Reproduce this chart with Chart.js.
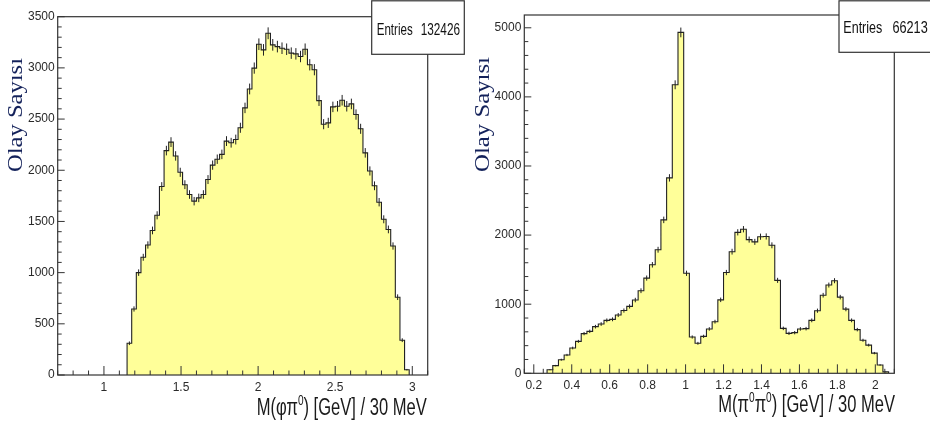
<!DOCTYPE html>
<html><head><meta charset="utf-8">
<script src="https://cdn.jsdelivr.net/npm/chart.js@4.4.1/dist/chart.umd.min.js"></script>
<style>
html,body{margin:0;padding:0;background:#fff;width:930px;height:427px;overflow:hidden}
.wrap{position:absolute;top:0;width:465px;height:427px}
</style></head><body>
<div class="wrap" style="left:0"><canvas id="c1" width="465" height="427"></canvas></div>
<div class="wrap" style="left:465px"><canvas id="c2" width="465" height="427"></canvas></div>
<script>
// ---------- Left histogram: M(phi pi0), 30 MeV bins ----------
const phiPi0BinStart = 1.15;
const phiPi0BinWidth = 0.03;
const phiPi0Counts = [
  310, 645, 1000, 1150, 1270, 1412, 1560, 1841, 2192, 2275,
  2140, 1980, 1859, 1763, 1698, 1730, 1763, 1909, 2050, 2108,
  2155, 2285, 2269, 2300, 2415, 2609, 2794, 2998, 3231, 3176,
  3338, 3225, 3208, 3192, 3182, 3144, 3137, 3111, 3182, 3030,
  2982, 2680, 2450, 2463, 2619, 2625, 2684, 2625, 2648, 2544,
  2405, 2170, 1993, 1848, 1688, 1521, 1422, 1260, 760, 340, 52];
const phiPi0Entries = '132426';
const phiPi0XTicks = [1, 1.5, 2, 2.5, 3];
const phiPi0XTickLabels = ['1', '1.5', '2', '2.5', '3'];
const phiPi0YTicks = [0, 500, 1000, 1500, 2000, 2500, 3000, 3500];
const phiPi0YTickLabels = ['0', '500', '1000', '1500', '2000', '2500', '3000', '3500'];

// ---------- Right histogram: M(pi0 pi0), 30 MeV bins ----------
const pi0Pi0BinStart = 0.27;
const pi0Pi0BinWidth = 0.03;
const pi0Pi0Counts = [
  52, 111, 197, 265, 366, 462, 574, 607, 675, 713,
  766, 781, 843, 908, 968, 1060, 1195, 1378, 1570, 1788,
  2220, 2828, 4175, 4933, 1447, 525, 434, 535, 642, 747,
  1063, 1458, 1760, 2040, 2085, 1935, 1902, 1977, 1980, 1852,
  1345, 650, 578, 588, 642, 646, 766, 906, 1130, 1277,
  1340, 1102, 928, 766, 632, 478, 408, 292, 120, 20];
const pi0Pi0Entries = '66213';
const pi0Pi0XTicks = [0.2, 0.4, 0.6, 0.8, 1, 1.2, 1.4, 1.6, 1.8, 2];
const pi0Pi0XTickLabels = ['0.2', '0.4', '0.6', '0.8', '1', '1.2', '1.4', '1.6', '1.8', '2'];
const pi0Pi0YTicks = [0, 1000, 2000, 3000, 4000, 5000];
const pi0Pi0YTickLabels = ['0', '1000', '2000', '3000', '4000', '5000'];

const yTitle = 'Olay Sayısı';
const entriesLabel = 'Entries';

const TICK_FONT = "'Liberation Sans Narrow', 'Liberation Sans', Arial, sans-serif";
const INK = '#333333';

function histPoints(start, width, counts) {
  const pts = [{x: start, y: 0}];
  counts.forEach((c, i) => pts.push({x: +(start + i * width).toFixed(4), y: c}));
  const end = +(start + counts.length * width).toFixed(4);
  pts.push({x: end, y: counts[counts.length - 1]});
  pts.push({x: end, y: 0});
  return pts;
}

function fitText(ctx, text, font, x, y, w, align) {
  ctx.save();
  ctx.font = font;
  const m = ctx.measureText(text).width;
  ctx.translate(x, y);
  ctx.scale(w / m, 1);
  ctx.textAlign = align;
  ctx.fillText(text, 0, 0);
  ctx.restore();
}

function makeDeco(cfg) {
  return {
    id: 'rootDeco',
    afterDatasetsDraw(chart) {
      const ctx = chart.ctx, a = chart.chartArea;
      const xs = chart.scales.x, ys = chart.scales.y;
      ctx.save();
      // error bars
      ctx.strokeStyle = '#222';
      ctx.lineWidth = 1;
      cfg.counts.forEach((c, i) => {
        const cx = xs.getPixelForValue(cfg.start + (i + 0.5) * cfg.width);
        const e = Math.sqrt(c);
        ctx.beginPath();
        ctx.moveTo(cx, ys.getPixelForValue(c - e));
        ctx.lineTo(cx, ys.getPixelForValue(c + e));
        ctx.stroke();
      });
      // frame
      ctx.strokeStyle = INK;
      ctx.lineWidth = 1.2;
      ctx.strokeRect(a.left, a.top, a.right - a.left, a.bottom - a.top);
      // y ticks
      ctx.lineWidth = 1;
      for (let v = ys.min; v <= ys.max + 1e-6; v += cfg.yMinor) {
        const major = Math.abs(v / cfg.yMajor - Math.round(v / cfg.yMajor)) < 1e-6;
        const py = ys.getPixelForValue(v);
        ctx.beginPath();
        ctx.moveTo(a.left, py);
        ctx.lineTo(a.left + (major ? 7 : 4), py);
        ctx.stroke();
      }
      // x ticks
      const first = Math.ceil(xs.min / cfg.xMinor - 1e-6) * cfg.xMinor;
      for (let v = first; v <= xs.max + 1e-6; v += cfg.xMinor) {
        const major = Math.abs(v / cfg.xMajor - Math.round(v / cfg.xMajor)) < 1e-4;
        const px = xs.getPixelForValue(v);
        ctx.beginPath();
        ctx.moveTo(px, a.bottom);
        ctx.lineTo(px, a.bottom - (major ? 9 : 4.5));
        ctx.stroke();
      }
      // stats box
      const b = cfg.box;
      ctx.fillStyle = '#fff';
      ctx.fillRect(b.x, b.y, b.w, b.h);
      ctx.strokeStyle = INK;
      ctx.lineWidth = 1.2;
      ctx.strokeRect(b.x, b.y, b.w, b.h);
      ctx.fillStyle = '#111';
      ctx.textBaseline = 'alphabetic';
      fitText(ctx, entriesLabel, "17px 'Liberation Sans', Arial", b.tx1, b.ty, b.tw1, 'left');
      fitText(ctx, cfg.entries, "17px 'Liberation Sans', Arial", b.tx2, b.ty, b.tw2, 'right');
      // y title
      ctx.save();
      ctx.fillStyle = '#13215a';
      ctx.font = "20px 'Liberation Serif', 'Times New Roman', serif";
      const yw = ctx.measureText(yTitle).width;
      ctx.translate(cfg.yt.x, cfg.yt.y);
      ctx.rotate(-Math.PI / 2);
      ctx.scale(cfg.yt.len / yw, 1);
      ctx.textAlign = 'center';
      ctx.textBaseline = 'middle';
      ctx.fillText(yTitle, 0, 0);
      ctx.restore();
      // x title with superscripts
      ctx.save();
      ctx.fillStyle = '#1a1a1a';
      const mainF = "23px 'Liberation Sans', Arial", supF = "14px 'Liberation Sans', Arial";
      let total = 0;
      cfg.xt.runs.forEach(r => { ctx.font = r.sup ? supF : mainF; r.w = ctx.measureText(r.t).width; total += r.w; });
      const s = cfg.xt.w / total;
      ctx.translate(cfg.xt.right - cfg.xt.w, cfg.xt.base);
      ctx.scale(s, 1);
      ctx.textAlign = 'left';
      ctx.textBaseline = 'alphabetic';
      let cx = 0;
      cfg.xt.runs.forEach(r => {
        ctx.font = r.sup ? supF : mainF;
        ctx.fillText(r.t, cx, r.sup ? -10 : 0);
        cx += r.w;
      });
      ctx.restore();
      ctx.restore();
    }
  };
}

function makeChart(id, cfg) {
  return new Chart(document.getElementById(id), {
    type: 'line',
    data: {
      datasets: [{
        data: histPoints(cfg.start, cfg.width, cfg.counts),
        stepped: true,
        borderColor: '#222',
        borderWidth: 1.1,
        backgroundColor: '#ffff99',
        fill: 'origin',
        pointRadius: 0,
        tension: 0
      }]
    },
    options: {
      responsive: false,
      animation: false,
      devicePixelRatio: 1,
      layout: {padding: {left: 0, top: cfg.top, right: cfg.padRight, bottom: 0}},
      plugins: {legend: {display: false}, tooltip: {enabled: false}},
      scales: {
        x: {
          type: 'linear', min: cfg.xmin, max: cfg.xmax,
          afterBuildTicks: s => { s.ticks = cfg.xTicks.map(v => ({value: v})); },
          afterFit: s => { s.height = cfg.xAxisH; },
          grid: {display: false, drawTicks: false},
          border: {display: false},
          ticks: {autoSkip: false, maxRotation: 0, padding: 5, color: '#2a2a2a',
                  font: {family: TICK_FONT, size: 12},
                  callback: (v, i) => cfg.xTickLabels[i]}
        },
        y: {
          type: 'linear', min: 0, max: cfg.ymax,
          afterBuildTicks: s => { s.ticks = cfg.yTicks.map(v => ({value: v})); },
          afterFit: s => { s.width = cfg.yAxisW; },
          grid: {display: false, drawTicks: false},
          border: {display: false},
          ticks: {autoSkip: false, padding: 3, color: '#2a2a2a',
                  font: {family: TICK_FONT, size: 12},
                  callback: (v, i) => cfg.yTickLabels[i]}
        }
      }
    },
    plugins: [makeDeco(cfg)]
  });
}

makeChart('c1', {
  start: phiPi0BinStart, width: phiPi0BinWidth, counts: phiPi0Counts, entries: phiPi0Entries,
  xTicks: phiPi0XTicks, xTickLabels: phiPi0XTickLabels, yTicks: phiPi0YTicks, yTickLabels: phiPi0YTickLabels,
  xmin: 0.7, xmax: 3.1, ymax: 3500,
  xMajor: 0.5, xMinor: 0.1, yMajor: 500, yMinor: 100,
  top: 16.7, padRight: 37.3, xAxisH: 52, yAxisW: 57.7,
  box: {x: 371.7, y: 0.8, w: 92.6, h: 53.5, tx1: 376.7, tx2: 460, ty: 35, tw1: 36, tw2: 39.3},
  yt: {x: 17, y: 115, len: 114},
  xt: {right: 426.7, w: 170, base: 415,
       runs: [{t: 'M(φπ'}, {t: '0', sup: true}, {t: ') [GeV] / 30 MeV'}]}
});

makeChart('c2', {
  start: pi0Pi0BinStart, width: pi0Pi0BinWidth, counts: pi0Pi0Counts, entries: pi0Pi0Entries,
  xTicks: pi0Pi0XTicks, xTickLabels: pi0Pi0XTickLabels, yTicks: pi0Pi0YTicks, yTickLabels: pi0Pi0YTickLabels,
  xmin: 0.15, xmax: 2.1, ymax: 5185,
  xMajor: 0.2, xMinor: 0.05, yMajor: 1000, yMinor: 200,
  top: 15, padRight: 35.7, xAxisH: 53.7, yAxisW: 59.3,
  box: {x: 374, y: 0.8, w: 95, h: 51.5, tx1: 378.3, tx2: 462.7, ty: 33.3, tw1: 39, tw2: 35.3},
  yt: {x: 19, y: 114.5, len: 115},
  xt: {right: 430, w: 176.7, base: 412,
       runs: [{t: 'M(π'}, {t: '0', sup: true}, {t: 'π'}, {t: '0', sup: true}, {t: ') [GeV] / 30 MeV'}]}
});
</script>
</body></html>
